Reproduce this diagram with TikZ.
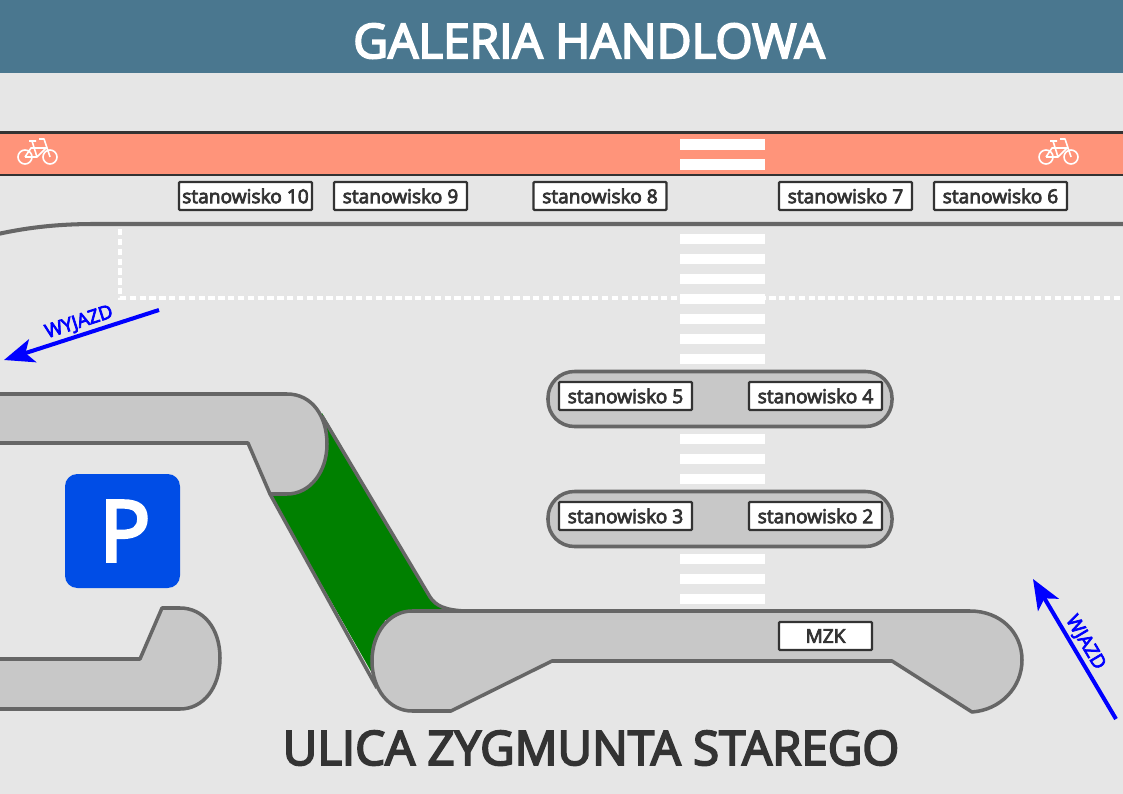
\documentclass[tikz,border=0pt]{standalone}
\usepackage{fontspec}
\setmainfont{Open Sans}
\newfontfamily\semifont{Open Sans}[FakeBold=4]
\usetikzlibrary{arrows,arrows.meta,positioning,calc}

\definecolor{groundcol}{HTML}{E6E6E6}
\definecolor{headcol}{HTML}{4A778F}
\definecolor{lanecol}{HTML}{FF947A}
\definecolor{edgecol}{HTML}{666666}
\definecolor{islandcol}{HTML}{C8C8C8}
\definecolor{textcol}{HTML}{333333}
\definecolor{parkcol}{HTML}{004DE6}
\definecolor{lawncol}{HTML}{008000}

\tikzset{
    stand/.style={draw=textcol,fill=white,line width=1.3pt,rounded corners=0.6pt,text=textcol,
        minimum width=133*0.02cm,minimum height=28*0.02cm,inner sep=0pt,
        font=\semifont\fontsize{10.9}{12}\selectfont},
    platform/.style={draw=edgecol,fill=islandcol,line width=2pt,line join=round},
    stripe/.style={fill=white},
    exitarrow/.style={-{Stealth[length=0.6cm,width=0.48cm,inset=0.15cm]},blue,line width=2.3pt},
    arrowtext/.style={text=blue,font=\semifont\fontsize{10.8}{11}\selectfont,inner sep=1pt},
    bike/.pic={
        \draw[white,line width=0.9pt,line join=round] (25,157) circle (7)  (50,157) circle (7)
            (25,157) -- (31,148) -- (46,148) (25,157) -- (37,157) -- (46,148)
            (32,141) -- (37,157) (29,141) -- (36,141)
            (39,139) -- (44,139) -- (50,157);
    }
}

\begin{document}
\begin{tikzpicture}[x=0.02cm,y=-0.02cm]
        \useasboundingbox (0,0) rectangle (1123,794);
        \fill[groundcol] (0,0) rectangle (1123,794);

        %%%% Header =====================================
        \fill[headcol] (0,0) rectangle (1123,73);
        \node[text=white,font=\semifont\fontsize{27.2}{30}\selectfont] (mall) at (589,41) {GALERIA HANDLOWA};

        %%%% Bike lane ==================================
        \draw[fill=lanecol,draw=textcol,line width=1.2pt] (-5,132.5) rectangle (1128,175);
        \fill[stripe] (680,139) rectangle (765,150);
        \fill[stripe] (680,159) rectangle (765,170);
        \pic at (0,0) {bike};
        \pic at (1021,0) {bike};

        %%%% Curb and dashed lines ======================
        \draw[edgecol,line width=2.3pt] (-2,234) .. controls (30,227) and (60,224) .. (95,224) -- (1125,224);
        \draw[white,line width=1.9pt,dash pattern=on 3.6pt off 2pt] (120,229) -- (120,298) -- (1125,298);

        %%%% Crossing ===================================
        \fill[stripe] (680,234) rectangle (765,244);
        \fill[stripe] (680,254) rectangle (765,264);
        \fill[stripe] (680,274) rectangle (765,284);
        \fill[stripe] (680,294) rectangle (765,304);
        \fill[stripe] (680,314) rectangle (765,324);
        \fill[stripe] (680,334) rectangle (765,344);
        \fill[stripe] (680,354) rectangle (765,364);
        \fill[stripe] (680,434) rectangle (765,444);
        \fill[stripe] (680,454) rectangle (765,464);
        \fill[stripe] (680,474) rectangle (765,484);
        \fill[stripe] (680,554) rectangle (765,564);
        \fill[stripe] (680,574) rectangle (765,584);
        \fill[stripe] (680,594) rectangle (765,604);

        %%%% Green strip ================================
        \fill[lawncol] (270,494) -- (372,673) -- (385,620) -- (460,611)
            .. controls (445,610) and (436,606) .. (430,597) -- (322,413) -- (290,450) -- cycle;
        \draw[platform,fill=none] (270,494) -- (377,688);
        \draw[platform,fill=none] (322,416) -- (430,597) .. controls (436,606) and (445,610) .. (465,611);

        %%%% Platforms ==================================
        \draw[platform,rounded corners=15] (548,371.5) rectangle (892,426.5);
        \draw[platform,rounded corners=15] (548,491.5) rectangle (892,546.5);
        \draw[platform] (-5,394) -- (287,394) .. controls (312,394) and (327,416) .. (327,444)
            .. controls (327,472) and (310,494) .. (287,494) -- (270,494) -- (248,443) -- (-5,443);
        \draw[platform] (-5,659) -- (140,659) -- (162,608) -- (180,608)
            .. controls (203,608) and (220,628) .. (220,658)
            .. controls (220,688) and (203,709) .. (180,709) -- (-5,709);
        \draw[platform] (412,611) -- (970,611) .. controls (1000,611) and (1022,632) .. (1022,660)
            .. controls (1022,688) and (1000,710) .. (972,712) -- (892,661) -- (552,661) -- (451,711) -- (412,711)
            .. controls (390,711) and (372,690) .. (372,661) .. controls (372,632) and (390,611) .. (412,611);

        %%%% Parking sign ===============================
        \fill[parkcol,rounded corners=7] (65,474) rectangle (180,588);
        \node[text=white,font=\semifont\fontsize{48}{52}\selectfont] (parking) at (125,531) {P};

        %%%% Stands =====================================
        \node[stand] (st10) at (245.5,196) {stanowisko 10};
        \node[stand] (st9) at (400.5,196) {stanowisko 9};
        \node[stand] (st8) at (600,196) {stanowisko 8};
        \node[stand] (st7) at (845.5,196) {stanowisko 7};
        \node[stand] (st6) at (1000.5,196) {stanowisko 6};
        \node[stand] (st5) at (625.5,396) {stanowisko 5};
        \node[stand] (st4) at (815.5,396) {stanowisko 4};
        \node[stand] (st3) at (625.5,516) {stanowisko 3};
        \node[stand] (st2) at (815.5,516) {stanowisko 2};
        \node[stand,minimum width=93*0.02cm] (mzk) at (825.5,636) {MZK};

        %%%% Arrows =====================================
        \coordinate (outa) at (159,310);
        \coordinate (outb) at (4,360);
        \coordinate (ina) at (1116,719);
        \coordinate (inb) at (1033,579);
        \draw[exitarrow] (outa) -- node[arrowtext,sloped,above,pos=0.49] {WYJAZD} (outb);
        \draw[exitarrow] (ina) -- node[arrowtext,sloped,above] {WJAZD} (inb);

        %%%% Street name ================================
        \node[text=textcol,font=\semifont\fontsize{27}{30}\selectfont] (street) at (591,748) {ULICA ZYGMUNTA STAREGO};
    \end{tikzpicture}
\end{document}
